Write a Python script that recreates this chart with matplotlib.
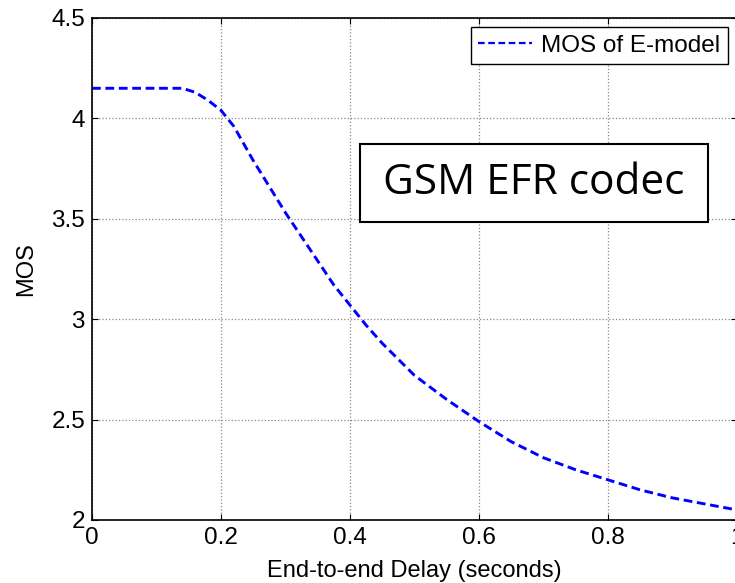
import numpy as np
import matplotlib.pyplot as plt
from matplotlib.patches import Rectangle

# delay in seconds and MOS
delay = [0, 0.05, 0.1, 0.14, 0.16, 0.18, 0.2, 0.22, 0.25, 0.275, 0.3, 0.325,
         0.35, 0.375, 0.4, 0.425, 0.45, 0.475, 0.5, 0.55, 0.6, 0.65, 0.7,
         0.75, 0.8, 0.85, 0.9, 0.95, 1.0]
mos = [4.15, 4.15, 4.15, 4.15, 4.13, 4.09, 4.04, 3.96, 3.79, 3.66, 3.53, 3.41,
       3.29, 3.17, 3.07, 2.97, 2.88, 2.80, 2.72, 2.60, 2.49, 2.39, 2.31,
       2.25, 2.20, 2.15, 2.11, 2.08, 2.05]

xticks = [0, 0.2, 0.4, 0.6, 0.8, 1]
xticklabels = ['0', '0.2', '0.4', '0.6', '0.8', '1']
yticks = [2, 2.5, 3, 3.5, 4, 4.5]
yticklabels = ['2', '2.5', '3', '3.5', '4', '4.5']

plt.rcParams['font.family'] = ['Liberation Sans', 'DejaVu Sans']

W, H = 735, 583
fig = plt.figure(figsize=(W / 100, H / 100), dpi=100)
ax = fig.add_axes([92 / W, (H - 520) / H, (737 - 92) / W, (520 - 18) / H])

ax.plot(delay, mos, color='blue', linestyle='--', linewidth=2.1,
        dashes=(3.0, 1.6), label='MOS of E-model')

ax.set_xlim(0, 1)
ax.set_ylim(2, 4.5)
ax.set_xticks(xticks)
ax.set_xticklabels(xticklabels)
ax.set_yticks(yticks)
ax.set_yticklabels(yticklabels)
ax.tick_params(direction='in', length=4, width=0.8, labelsize=17.5,
               top=True, right=True, pad=5)
ax.grid(True, color='#888888', linestyle=':', linewidth=0.9)
for s in ax.spines.values():
    s.set_linewidth(1.2)
    s.set_color('black')

ax.set_xlabel('End-to-end Delay (seconds)', fontsize=17, labelpad=8)
ax.set_ylabel('MOS', fontsize=17, labelpad=10)

leg = ax.legend(loc='upper right', fontsize=17.5, fancybox=False,
                framealpha=1, edgecolor='black', borderaxespad=0.38,
                handlelength=2.2, borderpad=0.3, handletextpad=0.4)
leg.get_frame().set_linewidth(1.0)
leg.get_lines()[0].set_linewidth(1.6)

# annotation box
bx0, by0, bx1, by1 = 360, 144, 708, 222
fig.patches.append(Rectangle((bx0 / W, (H - by1) / H), (bx1 - bx0) / W,
                             (by1 - by0) / H, transform=fig.transFigure,
                             facecolor='white', edgecolor='black',
                             linewidth=1.5, zorder=5))
fig.text((bx0 + bx1) / 2 / W, (H - (by0 + by1) / 2) / H, 'GSM EFR codec',
         family='Open Sans', fontsize=30.5, ha='center', va='center', zorder=6)

plt.savefig('out.png', dpi=100)
